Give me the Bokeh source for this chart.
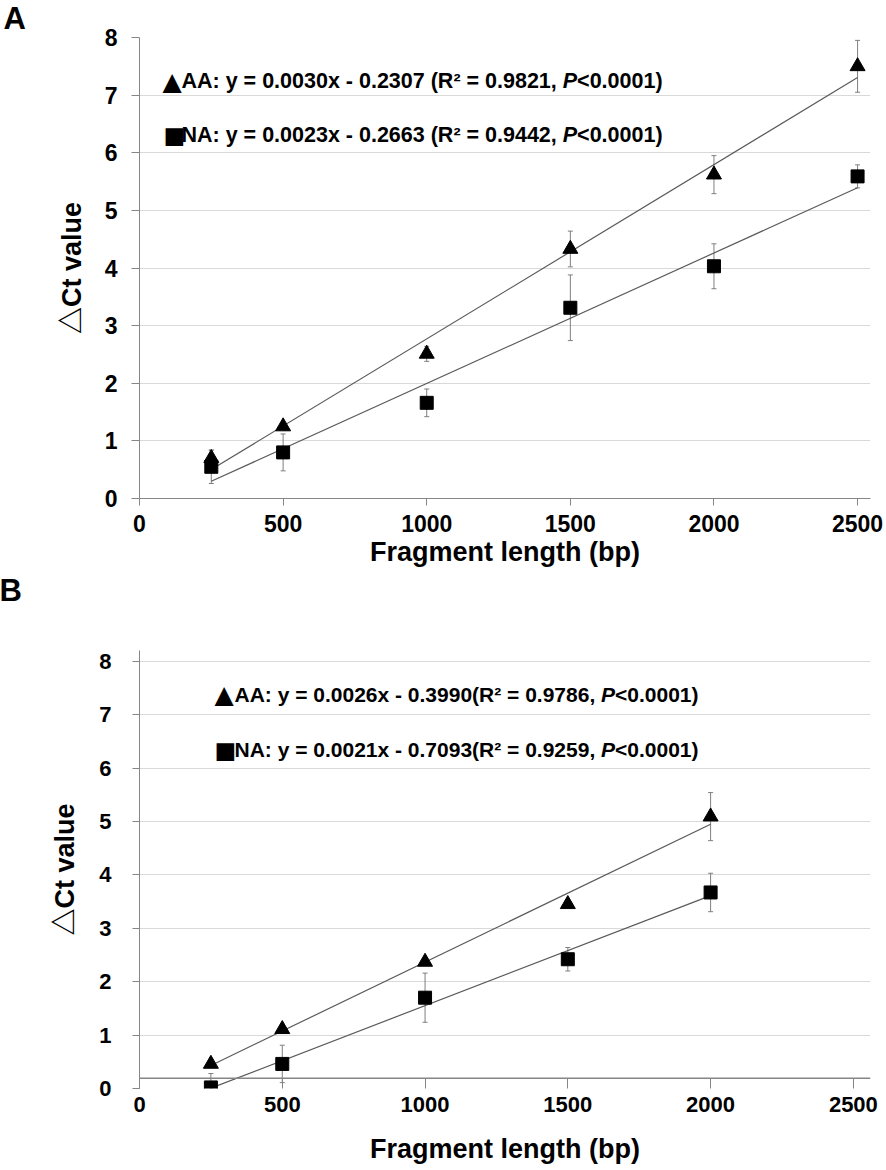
import numpy as np
from bokeh.plotting import figure
from bokeh.models import (ColumnDataSource, Whisker, TeeHead, Label, Range1d, FixedTicker,
                          Span, Title)
from bokeh.layouts import column
from bokeh.embed import file_html
from bokeh.resources import INLINE

# ---------------- data ----------------
fragment_a = [250, 500, 1000, 1500, 2000, 2500]
aa_mean_a = [0.70, 1.25, 2.51, 4.33, 5.62, 7.50]
aa_err_a = [0.14, 0.05, 0.13, 0.31, 0.33, 0.45]
na_mean_a = [0.55, 0.80, 1.66, 3.31, 4.03, 5.59]
na_err_a = [0.29, 0.32, 0.24, 0.57, 0.39, 0.20]

fragment_b = [250, 500, 1000, 1500, 2000]
aa_mean_b = [0.46, 1.11, 2.37, 3.45, 5.09]
aa_err_b = [0.05, 0.05, 0.05, 0.03, 0.45]
na_mean_b = [0.02, 0.46, 1.70, 2.42, 3.67]
na_err_b = [0.26, 0.35, 0.46, 0.22, 0.36]

x_ticks = [0, 500, 1000, 1500, 2000, 2500]
y_ticks = [0, 1, 2, 3, 4, 5, 6, 7, 8]

eq_aa_a = ["AA: y = 0.0030x - 0.2307 (R² = 0.9821, ", "P", "<0.0001)"]
eq_na_a = ["NA: y = 0.0023x - 0.2663 (R² = 0.9442, ", "P", "<0.0001)"]
eq_aa_b = ["AA: y = 0.0026x - 0.3990(R² = 0.9786, ", "P", "<0.0001)"]
eq_na_b = ["NA: y = 0.0021x - 0.7093(R² = 0.9259, ", "P", "<0.0001)"]

x_axis_b_line = 0.19   # the horizontal axis line drawn slightly above 0 in panel B

# ---------------- styles ----------------
FONT = "'Liberation Sans', Arial, sans-serif"
YFONT = "'Liberation Sans', 'Noto Sans CJK JP', sans-serif"
AXIS_C = "#868686"
GRID_C = "#d9d9d9"
TREND_C = "#5a5a5a"
ERR_C = "#7f7f7f"

# Arial/Liberation Sans Bold advance widths (per 1000 em)
W = {" ": 278, "(": 333, ")": 333, ",": 278, "-": 333, ".": 278, ":": 333,
     "<": 584, "=": 584, "A": 722, "N": 722, "R": 722, "P": 667, "x": 556,
     "y": 556, "²": 333}
for d in "0123456789":
    W[d] = 556


def tw(s, size):
    return sum(W.get(c, 556) for c in s) * size / 1000.0


def add_equation(p, sym, sym_size, parts, sx_sym, sx_text, sy, size):
    p.add_layout(Label(x=sx_sym, y=sy, x_units="screen", y_units="screen", text=sym,
                       text_font="'DejaVu Sans'", text_font_size=f"{sym_size}px",
                       text_font_style="bold", text_baseline="alphabetic", text_color="black"))
    x = sx_text
    styles = ["bold", "bold italic", "bold"]
    for part, st in zip(parts, styles):
        p.add_layout(Label(x=x, y=sy, x_units="screen", y_units="screen", text=part,
                           text_font=FONT, text_font_size=f"{size}px",
                           text_font_style=st, text_baseline="alphabetic", text_color="black"))
        x += tw(part, size)


def make_panel(letter, letter_offset, height, xmax, ymax, border_left, border_top, border_bottom,
               frags, aa, aa_e, na, na_e, tick_size, ytick, ylabel_standoff,
               xlabel_standoff, x_std, ticks_inside, spacer):
    p = figure(width=886, height=height, output_backend="svg", toolbar_location=None,
               x_range=Range1d(0, xmax), y_range=Range1d(0, ymax),
               min_border_left=border_left, min_border_right=16,
               min_border_top=border_top, min_border_bottom=border_bottom)
    p.title = Title(text=letter, align="left", vertical_align="top", offset=letter_offset,
                    standoff=0, text_font=FONT, text_font_size="31px",
                    text_font_style="bold", text_color="black")
    if spacer:
        p.add_layout(Title(text=" ", text_font=FONT, text_font_size="10px", standoff=28), "above")
    p.outline_line_color = None
    p.background_fill_color = "white"
    p.xgrid.grid_line_color = None
    p.ygrid.grid_line_color = GRID_C
    p.ygrid.grid_line_width = 1
    p.ygrid.ticker = FixedTicker(ticks=y_ticks)

    p.xaxis.ticker = FixedTicker(ticks=x_ticks)
    p.yaxis.ticker = FixedTicker(ticks=y_ticks)
    for ax in (p.xaxis, p.yaxis):
        ax.axis_line_color = AXIS_C
        ax.major_tick_line_color = AXIS_C
        ax.minor_tick_line_color = None
        ax.major_label_text_font = FONT
        ax.major_label_text_font_style = "bold"
        ax.major_label_text_font_size = f"{tick_size}px"
        ax.major_label_text_color = "black"
        ax.axis_label_text_font_style = "bold"
        ax.axis_label_text_font_size = "27px"
        ax.axis_label_text_color = "black"
    p.xaxis.axis_label = "Fragment length (bp)"
    p.xaxis.axis_label_text_font = FONT
    p.yaxis.axis_label = "△Ct value"
    p.yaxis.axis_label_text_font = YFONT
    p.yaxis.major_tick_in = 0
    p.yaxis.major_tick_out = ytick[0]
    p.yaxis.major_label_standoff = ytick[1]
    p.yaxis.axis_label_standoff = ylabel_standoff
    if ticks_inside:
        p.xaxis.axis_line_color = None
        p.xaxis.major_tick_in = 10
        p.xaxis.major_tick_out = 0
    else:
        p.xaxis.major_tick_in = 0
        p.xaxis.major_tick_out = 7
    p.xaxis.major_label_standoff = x_std
    p.xaxis.axis_label_standoff = xlabel_standoff

    for means, errs, marker, msize in ((aa, aa_e, "triangle", 15), (na, na_e, "square", 13)):
        src = ColumnDataSource(dict(x=frags, y=means,
                                    upper=[m + e for m, e in zip(means, errs)],
                                    lower=[m - e for m, e in zip(means, errs)]))
        p.add_layout(Whisker(source=src, base="x", upper="upper", lower="lower",
                             line_color=ERR_C, line_width=1,
                             upper_head=TeeHead(size=5, line_color=ERR_C, line_width=1),
                             lower_head=TeeHead(size=5, line_color=ERR_C, line_width=1)))
        slope, icpt = np.polyfit(np.array(frags, float), np.array(means, float), 1)
        xs = [min(frags), max(frags)]
        p.line(xs, [slope * v + icpt for v in xs], line_color=TREND_C, line_width=1.2)
        p.scatter("x", "y", source=src, marker=marker, size=msize,
                  fill_color="black", line_color="black")
    return p


# ---------------- panel A ----------------
pA = make_panel("A", -136, 572, 2545, 8, 132, 34, 74, fragment_a, aa_mean_a, aa_err_a,
                na_mean_a, na_err_a, 23, (8, 14), 15, 2, 9, False, False)
add_equation(pA, "▲", 25, eq_aa_a, 23, 42, 417.5, 21.5)
add_equation(pA, "■", 23, eq_na_a, 24, 42, 364, 21.5)

# ---------------- panel B ----------------
pB = make_panel("B", -140, 598, 2560, 8.2, 139, 73, 82, fragment_b, aa_mean_b, aa_err_b,
                na_mean_b, na_err_b, 22, (7, 21), 16, 19, 8, True, True)
pB.add_layout(Span(location=x_axis_b_line, dimension="width", line_color=AXIS_C, line_width=1.5))
add_equation(pB, "▲", 25, eq_aa_b, 75, 95, 394, 21)
add_equation(pB, "■", 23, eq_na_b, 75, 95, 339, 21)

layout = column(pA, pB, spacing=0)
open("out.html", "w").write(file_html(layout, INLINE))
